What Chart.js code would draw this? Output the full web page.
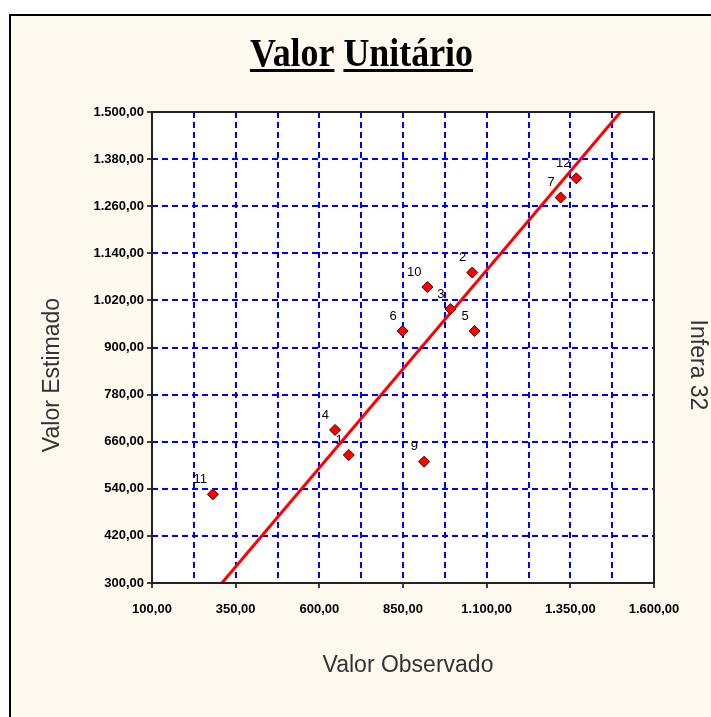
<!DOCTYPE html>
<html>
<head>
<meta charset="utf-8">
<script src="https://cdn.jsdelivr.net/npm/chart.js@4/dist/chart.umd.min.js"></script>
<style>
  html, body { margin: 0; padding: 0; background: #fff; }
  #wrap { width: 711px; height: 717px; position: relative; }
</style>
</head>
<body>
<div id="wrap"><canvas id="chart" width="711" height="717"></canvas></div>
<script>
// point labels, observed (x) and estimated (y) values
const pointNames = ['1', '2', '3', '4', '5', '6', '7', '9', '10', '11', '12'];
const observed = [688, 1057, 992, 647, 1064, 849, 1321, 913, 923, 282, 1368];
const estimated = [626, 1091, 998, 690, 942, 942, 1282, 609, 1054, 526, 1331];

// fitted line end points
const lineX = [309, 1500];
const lineY = [300, 1500];

// axis ticks
const xTickValues = [100, 225, 350, 475, 600, 725, 850, 975, 1100, 1225, 1350, 1475, 1600];
const xLabelValues = [100, 350, 600, 850, 1100, 1350, 1600];
const yTickValues = [300, 420, 540, 660, 780, 900, 1020, 1140, 1260, 1380, 1500];

const fmt = v => {
  const [i, d] = v.toFixed(2).split('.');
  return i.replace(/\B(?=(\d{3})+(?!\d))/g, '.') + ',' + d;
};

const tickFont = { family: '"Liberation Sans", Arial, sans-serif', size: 13, weight: 'bold' };

// frame, white plot area, titles and box
const decorations = {
  id: 'decorations',
  beforeDraw(chart) {
    const { ctx, chartArea: a } = chart;
    ctx.save();
    ctx.fillStyle = '#fff';
    ctx.fillRect(0, 0, chart.width, chart.height);
    ctx.fillStyle = '#FEF9EE';
    ctx.fillRect(10, 15, chart.width - 10, chart.height - 15);
    ctx.strokeStyle = '#000';
    ctx.lineWidth = 2;
    ctx.beginPath();
    ctx.moveTo(10, chart.height + 5);
    ctx.lineTo(10, 15);
    ctx.lineTo(chart.width + 5, 15);
    ctx.stroke();
    ctx.fillStyle = '#fff';
    ctx.fillRect(a.left, a.top, a.right - a.left, a.bottom - a.top);
    ctx.restore();
  },
  beforeDatasetsDraw(chart) {
    // point number labels (under the line, like the reference)
    const { ctx } = chart;
    const meta = chart.getDatasetMeta(0);
    ctx.save();
    ctx.fillStyle = '#000';
    ctx.font = '13px "Liberation Sans", Arial, sans-serif';
    ctx.textAlign = 'right';
    ctx.textBaseline = 'middle';
    meta.data.forEach((pt, i) => {
      ctx.fillText(pointNames[i], pt.x - 6, pt.y - 15);
    });
    ctx.restore();
  },
  afterDraw(chart) {
    const { ctx, chartArea: a } = chart;
    ctx.save();
    // plot box
    ctx.strokeStyle = '#222';
    ctx.lineWidth = 2;
    ctx.strokeRect(a.left, a.top, a.right - a.left, a.bottom - a.top);

    // main title, condensed serif with each word underlined
    ctx.fillStyle = '#000';
    ctx.font = 'bold 40px "Liberation Serif", "Times New Roman", serif';
    ctx.textBaseline = 'alphabetic';
    ctx.textAlign = 'left';
    const words = ['Valor', 'Unitário'];
    const space = ctx.measureText(' ').width;
    const raw = words.reduce((s, w) => s + ctx.measureText(w).width, 0) + space;
    const sx = 223 / raw;
    let x = 250;
    words.forEach(w => {
      const ww = ctx.measureText(w).width * sx;
      ctx.save();
      ctx.translate(x, 66);
      ctx.scale(sx, 1);
      ctx.fillText(w, 0, 0);
      ctx.restore();
      ctx.fillRect(x, 69, ww, 3);
      x += ww + space * sx;
    });

    // axis titles
    ctx.font = '23px "Liberation Sans", Arial, sans-serif';
    ctx.fillStyle = '#333';
    ctx.textAlign = 'center';
    ctx.textBaseline = 'middle';
    ctx.fillText('Valor Observado', 408, 666);

    ctx.save();
    ctx.translate(53, 375);
    ctx.rotate(-Math.PI / 2);
    ctx.fillText('Valor Estimado', 0, 0);
    ctx.restore();

    ctx.save();
    ctx.translate(697, 365);
    ctx.rotate(Math.PI / 2);
    ctx.fillText('Infera 32', 0, 0);
    ctx.restore();
    ctx.restore();
  }
};

new Chart(document.getElementById('chart'), {
  data: {
    datasets: [
      {
        type: 'scatter',
        data: observed.map((v, i) => ({ x: v, y: estimated[i] })),
        pointStyle: 'rectRot',
        pointRadius: 5.5,
        pointHoverRadius: 5.5,
        backgroundColor: '#FF0000',
        borderColor: '#3a0000',
        borderWidth: 1
      },
      {
        type: 'line',
        data: lineX.map((v, i) => ({ x: v, y: lineY[i] })),
        borderColor: '#FF0000',
        borderWidth: 3,
        pointRadius: 0,
        fill: false
      }
    ]
  },
  options: {
    responsive: false,
    animation: false,
    events: [],
    layout: { padding: { left: 0, top: 112, right: 57, bottom: 0 } },
    plugins: { legend: { display: false }, tooltip: { enabled: false } },
    scales: {
      x: {
        type: 'linear',
        min: 100, max: 1600,
        afterBuildTicks: s => { s.ticks = xTickValues.map(v => ({ value: v })); },
        afterFit: s => { s.height = 134; },
        border: { display: false, dash: [6, 4] },
        grid: {
          color: c => (c.tick && (c.tick.value === 100 || c.tick.value === 1600)) ? 'transparent' : '#0000FF',
          lineWidth: 2,
          tickLength: 5,
          tickWidth: 1.5,
          tickBorderDash: [],
          tickColor: c => (c.tick && xLabelValues.includes(c.tick.value)) ? '#000' : 'transparent'
        },
        ticks: {
          autoSkip: false,
          maxRotation: 0,
          padding: 14,
          color: '#000',
          font: tickFont,
          callback: v => xLabelValues.includes(v) ? fmt(v) : ''
        }
      },
      y: {
        type: 'linear',
        min: 300, max: 1500,
        afterBuildTicks: s => { s.ticks = yTickValues.map(v => ({ value: v })); },
        afterFit: s => { s.width = 152; },
        border: { display: false, dash: [6, 4] },
        grid: {
          color: c => (c.tick && (c.tick.value === 300 || c.tick.value === 1500)) ? 'transparent' : '#0000FF',
          lineWidth: 2,
          tickLength: 5,
          tickWidth: 1.5,
          tickBorderDash: [],
          tickColor: '#000'
        },
        ticks: {
          autoSkip: false,
          padding: 3,
          color: '#000',
          font: tickFont,
          callback: v => fmt(v)
        }
      }
    }
  },
  plugins: [decorations]
});
</script>
</body>
</html>
